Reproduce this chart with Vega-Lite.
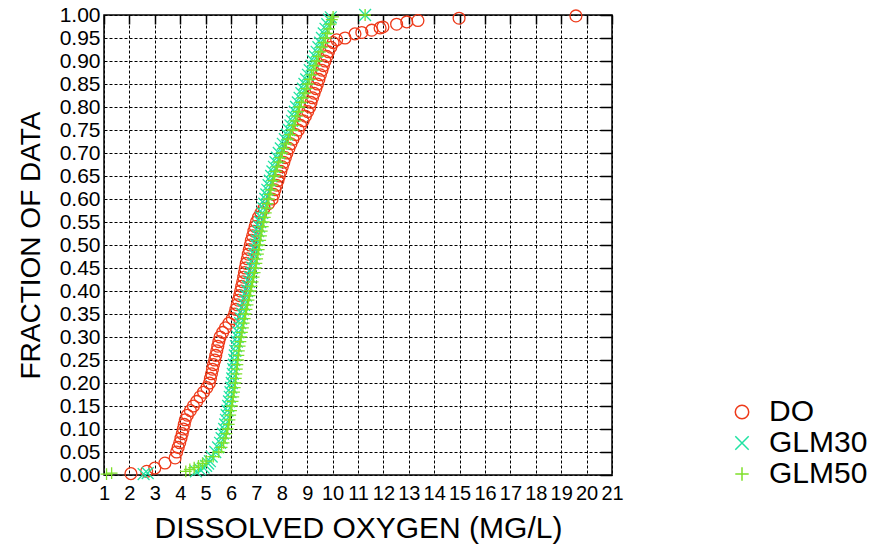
{
  "$schema": "https://vega.github.io/schema/vega-lite/v6.json",
  "width": 508,
  "height": 460,
  "autosize": {"type": "none"},
  "padding": {"left": 104, "top": 15, "right": 257, "bottom": 74},
  "background": "white",
  "config": {
    "font": "Liberation Sans",
    "view": {"stroke": "black", "strokeWidth": 1.5},
    "axis": {"labelColor": "black", "titleColor": "black", "titleFontWeight": "normal", "labelFont": "Liberation Sans", "titleFont": "Liberation Sans"}
  },
  "resolve": {"axis": {"x": "independent", "y": "independent"}},
  "data": {"values": [
    {"s":"DO","x":2.06,"y":0.003},{"s":"DO","x":2.68,"y":0.008},{"s":"DO","x":3.0,"y":0.015},{"s":"DO","x":3.4,"y":0.026},{"s":"DO","x":3.8,"y":0.037},
    {"s":"DO","x":3.86,"y":0.05},{"s":"DO","x":3.92,"y":0.06},{"s":"DO","x":3.98,"y":0.07},{"s":"DO","x":4.03,"y":0.08},{"s":"DO","x":4.08,"y":0.09},
    {"s":"DO","x":4.12,"y":0.10},{"s":"DO","x":4.16,"y":0.11},{"s":"DO","x":4.2,"y":0.12},{"s":"DO","x":4.28,"y":0.13},{"s":"DO","x":4.4,"y":0.14},
    {"s":"DO","x":4.52,"y":0.15},{"s":"DO","x":4.65,"y":0.16},{"s":"DO","x":4.78,"y":0.17},{"s":"DO","x":4.92,"y":0.18},{"s":"DO","x":5.05,"y":0.19},
    {"s":"DO","x":5.15,"y":0.20},{"s":"DO","x":5.19,"y":0.21},{"s":"DO","x":5.23,"y":0.22},{"s":"DO","x":5.27,"y":0.23},{"s":"DO","x":5.31,"y":0.24},
    {"s":"DO","x":5.36,"y":0.25},{"s":"DO","x":5.4,"y":0.26},{"s":"DO","x":5.44,"y":0.27},{"s":"DO","x":5.48,"y":0.28},{"s":"DO","x":5.52,"y":0.29},
    {"s":"DO","x":5.57,"y":0.30},{"s":"DO","x":5.67,"y":0.31},{"s":"DO","x":5.78,"y":0.32},{"s":"DO","x":5.92,"y":0.33},{"s":"DO","x":6.05,"y":0.34},
    {"s":"DO","x":6.14,"y":0.35},{"s":"DO","x":6.19,"y":0.36},{"s":"DO","x":6.24,"y":0.37},{"s":"DO","x":6.29,"y":0.38},{"s":"DO","x":6.34,"y":0.39},
    {"s":"DO","x":6.38,"y":0.40},{"s":"DO","x":6.42,"y":0.41},{"s":"DO","x":6.46,"y":0.42},{"s":"DO","x":6.5,"y":0.43},{"s":"DO","x":6.53,"y":0.44},
    {"s":"DO","x":6.56,"y":0.45},{"s":"DO","x":6.6,"y":0.46},{"s":"DO","x":6.64,"y":0.47},{"s":"DO","x":6.68,"y":0.48},{"s":"DO","x":6.72,"y":0.49},
    {"s":"DO","x":6.76,"y":0.50},{"s":"DO","x":6.8,"y":0.51},{"s":"DO","x":6.85,"y":0.52},{"s":"DO","x":6.9,"y":0.53},{"s":"DO","x":6.95,"y":0.54},
    {"s":"DO","x":7.0,"y":0.55},{"s":"DO","x":7.08,"y":0.56},{"s":"DO","x":7.18,"y":0.57},{"s":"DO","x":7.3,"y":0.58},{"s":"DO","x":7.48,"y":0.59},
    {"s":"DO","x":7.62,"y":0.60},{"s":"DO","x":7.68,"y":0.61},{"s":"DO","x":7.73,"y":0.62},{"s":"DO","x":7.79,"y":0.63},{"s":"DO","x":7.85,"y":0.64},
    {"s":"DO","x":7.9,"y":0.65},{"s":"DO","x":7.96,"y":0.66},{"s":"DO","x":8.02,"y":0.67},{"s":"DO","x":8.08,"y":0.68},{"s":"DO","x":8.14,"y":0.69},
    {"s":"DO","x":8.2,"y":0.70},{"s":"DO","x":8.28,"y":0.71},{"s":"DO","x":8.36,"y":0.72},{"s":"DO","x":8.44,"y":0.73},{"s":"DO","x":8.55,"y":0.74},
    {"s":"DO","x":8.65,"y":0.75},{"s":"DO","x":8.74,"y":0.76},{"s":"DO","x":8.84,"y":0.77},{"s":"DO","x":8.93,"y":0.78},{"s":"DO","x":9.02,"y":0.79},
    {"s":"DO","x":9.1,"y":0.80},{"s":"DO","x":9.15,"y":0.81},{"s":"DO","x":9.21,"y":0.82},{"s":"DO","x":9.27,"y":0.83},{"s":"DO","x":9.34,"y":0.84},
    {"s":"DO","x":9.4,"y":0.85},{"s":"DO","x":9.46,"y":0.86},{"s":"DO","x":9.52,"y":0.87},{"s":"DO","x":9.58,"y":0.88},{"s":"DO","x":9.64,"y":0.89},
    {"s":"DO","x":9.7,"y":0.90},{"s":"DO","x":9.77,"y":0.91},{"s":"DO","x":9.84,"y":0.92},{"s":"DO","x":9.93,"y":0.93},{"s":"DO","x":10.02,"y":0.94},
    {"s":"DO","x":10.16,"y":0.946},{"s":"DO","x":10.49,"y":0.95},{"s":"DO","x":10.88,"y":0.959},{"s":"DO","x":11.15,"y":0.962},{"s":"DO","x":11.54,"y":0.967},
    {"s":"DO","x":11.87,"y":0.972},{"s":"DO","x":11.98,"y":0.974},{"s":"DO","x":12.52,"y":0.98},{"s":"DO","x":12.92,"y":0.985},{"s":"DO","x":13.36,"y":0.988},
    {"s":"DO","x":14.98,"y":0.993},{"s":"DO","x":19.58,"y":0.998},

    {"s":"GLM30","x":2.56,"y":0.002},{"s":"GLM30","x":2.72,"y":0.004},{"s":"GLM30","x":4.62,"y":0.008},{"s":"GLM30","x":4.78,"y":0.012},{"s":"GLM30","x":4.92,"y":0.016},
    {"s":"GLM30","x":5.02,"y":0.02},{"s":"GLM30","x":5.1,"y":0.025},{"s":"GLM30","x":5.17,"y":0.03},{"s":"GLM30","x":5.24,"y":0.04},{"s":"GLM30","x":5.38,"y":0.05},
    {"s":"GLM30","x":5.49,"y":0.06},{"s":"GLM30","x":5.57,"y":0.07},{"s":"GLM30","x":5.63,"y":0.08},{"s":"GLM30","x":5.68,"y":0.09},{"s":"GLM30","x":5.73,"y":0.10},
    {"s":"GLM30","x":5.77,"y":0.11},{"s":"GLM30","x":5.8,"y":0.12},{"s":"GLM30","x":5.83,"y":0.13},{"s":"GLM30","x":5.86,"y":0.14},{"s":"GLM30","x":5.89,"y":0.15},
    {"s":"GLM30","x":5.92,"y":0.16},{"s":"GLM30","x":5.95,"y":0.17},{"s":"GLM30","x":5.98,"y":0.18},{"s":"GLM30","x":6.01,"y":0.19},{"s":"GLM30","x":6.03,"y":0.20},
    {"s":"GLM30","x":6.05,"y":0.21},{"s":"GLM30","x":6.07,"y":0.22},{"s":"GLM30","x":6.09,"y":0.23},{"s":"GLM30","x":6.11,"y":0.24},{"s":"GLM30","x":6.13,"y":0.25},
    {"s":"GLM30","x":6.15,"y":0.26},{"s":"GLM30","x":6.17,"y":0.27},{"s":"GLM30","x":6.2,"y":0.28},{"s":"GLM30","x":6.23,"y":0.29},{"s":"GLM30","x":6.26,"y":0.30},
    {"s":"GLM30","x":6.29,"y":0.31},{"s":"GLM30","x":6.33,"y":0.32},{"s":"GLM30","x":6.36,"y":0.33},{"s":"GLM30","x":6.4,"y":0.34},{"s":"GLM30","x":6.43,"y":0.35},
    {"s":"GLM30","x":6.47,"y":0.36},{"s":"GLM30","x":6.51,"y":0.37},{"s":"GLM30","x":6.55,"y":0.38},{"s":"GLM30","x":6.59,"y":0.39},{"s":"GLM30","x":6.63,"y":0.40},
    {"s":"GLM30","x":6.67,"y":0.41},{"s":"GLM30","x":6.71,"y":0.42},{"s":"GLM30","x":6.75,"y":0.43},{"s":"GLM30","x":6.79,"y":0.44},{"s":"GLM30","x":6.83,"y":0.45},
    {"s":"GLM30","x":6.86,"y":0.46},{"s":"GLM30","x":6.89,"y":0.47},{"s":"GLM30","x":6.92,"y":0.48},{"s":"GLM30","x":6.95,"y":0.49},{"s":"GLM30","x":6.98,"y":0.50},
    {"s":"GLM30","x":7.01,"y":0.51},{"s":"GLM30","x":7.04,"y":0.52},{"s":"GLM30","x":7.07,"y":0.53},{"s":"GLM30","x":7.11,"y":0.54},{"s":"GLM30","x":7.15,"y":0.55},
    {"s":"GLM30","x":7.19,"y":0.56},{"s":"GLM30","x":7.23,"y":0.57},{"s":"GLM30","x":7.27,"y":0.58},{"s":"GLM30","x":7.31,"y":0.59},{"s":"GLM30","x":7.35,"y":0.60},
    {"s":"GLM30","x":7.39,"y":0.61},{"s":"GLM30","x":7.43,"y":0.62},{"s":"GLM30","x":7.48,"y":0.63},{"s":"GLM30","x":7.53,"y":0.64},{"s":"GLM30","x":7.58,"y":0.65},
    {"s":"GLM30","x":7.63,"y":0.66},{"s":"GLM30","x":7.69,"y":0.67},{"s":"GLM30","x":7.75,"y":0.68},{"s":"GLM30","x":7.81,"y":0.69},{"s":"GLM30","x":7.88,"y":0.70},
    {"s":"GLM30","x":7.96,"y":0.71},{"s":"GLM30","x":8.04,"y":0.72},{"s":"GLM30","x":8.12,"y":0.73},{"s":"GLM30","x":8.2,"y":0.74},{"s":"GLM30","x":8.28,"y":0.75},
    {"s":"GLM30","x":8.34,"y":0.76},{"s":"GLM30","x":8.4,"y":0.77},{"s":"GLM30","x":8.46,"y":0.78},{"s":"GLM30","x":8.51,"y":0.79},{"s":"GLM30","x":8.56,"y":0.80},
    {"s":"GLM30","x":8.63,"y":0.81},{"s":"GLM30","x":8.7,"y":0.82},{"s":"GLM30","x":8.77,"y":0.83},{"s":"GLM30","x":8.83,"y":0.84},{"s":"GLM30","x":8.89,"y":0.85},
    {"s":"GLM30","x":8.96,"y":0.86},{"s":"GLM30","x":9.03,"y":0.87},{"s":"GLM30","x":9.1,"y":0.88},{"s":"GLM30","x":9.17,"y":0.89},{"s":"GLM30","x":9.23,"y":0.90},
    {"s":"GLM30","x":9.3,"y":0.91},{"s":"GLM30","x":9.37,"y":0.92},{"s":"GLM30","x":9.44,"y":0.93},{"s":"GLM30","x":9.51,"y":0.94},{"s":"GLM30","x":9.58,"y":0.95},
    {"s":"GLM30","x":9.65,"y":0.96},{"s":"GLM30","x":9.72,"y":0.97},{"s":"GLM30","x":9.79,"y":0.98},{"s":"GLM30","x":9.86,"y":0.99},{"s":"GLM30","x":9.93,"y":0.995},
    {"s":"GLM30","x":11.28,"y":1.0},

    {"s":"GLM50","x":1.1,"y":0.002},{"s":"GLM50","x":1.3,"y":0.004},{"s":"GLM50","x":4.22,"y":0.008},{"s":"GLM50","x":4.38,"y":0.012},{"s":"GLM50","x":4.55,"y":0.016},
    {"s":"GLM50","x":4.72,"y":0.02},{"s":"GLM50","x":4.88,"y":0.025},{"s":"GLM50","x":5.02,"y":0.03},{"s":"GLM50","x":5.3,"y":0.04},{"s":"GLM50","x":5.52,"y":0.05},
    {"s":"GLM50","x":5.63,"y":0.06},{"s":"GLM50","x":5.71,"y":0.07},{"s":"GLM50","x":5.77,"y":0.08},{"s":"GLM50","x":5.82,"y":0.09},{"s":"GLM50","x":5.87,"y":0.10},
    {"s":"GLM50","x":5.91,"y":0.11},{"s":"GLM50","x":5.94,"y":0.12},{"s":"GLM50","x":5.97,"y":0.13},{"s":"GLM50","x":6.0,"y":0.14},{"s":"GLM50","x":6.03,"y":0.15},
    {"s":"GLM50","x":6.06,"y":0.16},{"s":"GLM50","x":6.09,"y":0.17},{"s":"GLM50","x":6.12,"y":0.18},{"s":"GLM50","x":6.15,"y":0.19},{"s":"GLM50","x":6.17,"y":0.20},
    {"s":"GLM50","x":6.19,"y":0.21},{"s":"GLM50","x":6.21,"y":0.22},{"s":"GLM50","x":6.23,"y":0.23},{"s":"GLM50","x":6.25,"y":0.24},{"s":"GLM50","x":6.27,"y":0.25},
    {"s":"GLM50","x":6.29,"y":0.26},{"s":"GLM50","x":6.31,"y":0.27},{"s":"GLM50","x":6.34,"y":0.28},{"s":"GLM50","x":6.37,"y":0.29},{"s":"GLM50","x":6.4,"y":0.30},
    {"s":"GLM50","x":6.43,"y":0.31},{"s":"GLM50","x":6.47,"y":0.32},{"s":"GLM50","x":6.5,"y":0.33},{"s":"GLM50","x":6.54,"y":0.34},{"s":"GLM50","x":6.57,"y":0.35},
    {"s":"GLM50","x":6.61,"y":0.36},{"s":"GLM50","x":6.65,"y":0.37},{"s":"GLM50","x":6.69,"y":0.38},{"s":"GLM50","x":6.73,"y":0.39},{"s":"GLM50","x":6.77,"y":0.40},
    {"s":"GLM50","x":6.81,"y":0.41},{"s":"GLM50","x":6.85,"y":0.42},{"s":"GLM50","x":6.89,"y":0.43},{"s":"GLM50","x":6.93,"y":0.44},{"s":"GLM50","x":6.97,"y":0.45},
    {"s":"GLM50","x":7.0,"y":0.46},{"s":"GLM50","x":7.03,"y":0.47},{"s":"GLM50","x":7.06,"y":0.48},{"s":"GLM50","x":7.09,"y":0.49},{"s":"GLM50","x":7.12,"y":0.50},
    {"s":"GLM50","x":7.15,"y":0.51},{"s":"GLM50","x":7.18,"y":0.52},{"s":"GLM50","x":7.21,"y":0.53},{"s":"GLM50","x":7.25,"y":0.54},{"s":"GLM50","x":7.29,"y":0.55},
    {"s":"GLM50","x":7.33,"y":0.56},{"s":"GLM50","x":7.37,"y":0.57},{"s":"GLM50","x":7.41,"y":0.58},{"s":"GLM50","x":7.45,"y":0.59},{"s":"GLM50","x":7.49,"y":0.60},
    {"s":"GLM50","x":7.53,"y":0.61},{"s":"GLM50","x":7.57,"y":0.62},{"s":"GLM50","x":7.62,"y":0.63},{"s":"GLM50","x":7.67,"y":0.64},{"s":"GLM50","x":7.72,"y":0.65},
    {"s":"GLM50","x":7.77,"y":0.66},{"s":"GLM50","x":7.83,"y":0.67},{"s":"GLM50","x":7.89,"y":0.68},{"s":"GLM50","x":7.95,"y":0.69},{"s":"GLM50","x":8.02,"y":0.70},
    {"s":"GLM50","x":8.1,"y":0.71},{"s":"GLM50","x":8.18,"y":0.72},{"s":"GLM50","x":8.26,"y":0.73},{"s":"GLM50","x":8.34,"y":0.74},{"s":"GLM50","x":8.42,"y":0.75},
    {"s":"GLM50","x":8.48,"y":0.76},{"s":"GLM50","x":8.54,"y":0.77},{"s":"GLM50","x":8.6,"y":0.78},{"s":"GLM50","x":8.65,"y":0.79},{"s":"GLM50","x":8.7,"y":0.80},
    {"s":"GLM50","x":8.77,"y":0.81},{"s":"GLM50","x":8.84,"y":0.82},{"s":"GLM50","x":8.91,"y":0.83},{"s":"GLM50","x":8.97,"y":0.84},{"s":"GLM50","x":9.03,"y":0.85},
    {"s":"GLM50","x":9.1,"y":0.86},{"s":"GLM50","x":9.17,"y":0.87},{"s":"GLM50","x":9.24,"y":0.88},{"s":"GLM50","x":9.31,"y":0.89},{"s":"GLM50","x":9.37,"y":0.90},
    {"s":"GLM50","x":9.44,"y":0.91},{"s":"GLM50","x":9.51,"y":0.92},{"s":"GLM50","x":9.58,"y":0.93},{"s":"GLM50","x":9.65,"y":0.94},{"s":"GLM50","x":9.72,"y":0.95},
    {"s":"GLM50","x":9.79,"y":0.96},{"s":"GLM50","x":9.86,"y":0.97},{"s":"GLM50","x":9.92,"y":0.98},{"s":"GLM50","x":9.97,"y":0.99},{"s":"GLM50","x":10.02,"y":0.996},
    {"s":"GLM50","x":11.28,"y":1.0}
  ]},
  "layer": [
    {
      "mark": {"type": "point", "opacity": 0},
      "encoding": {
        "x": {"field": "x", "type": "quantitative", "scale": {"domain": [1, 21], "nice": false, "zero": false},
              "axis": {"orient": "top", "title": null, "labels": false, "domain": false, "grid": false, "ticks": true, "tickSize": -9, "tickColor": "black", "tickWidth": 1.5,
                       "values": [1,2,3,4,5,6,7,8,9,10,11,12,13,14,15,16,17,18,19,20,21]}},
        "y": {"field": "y", "type": "quantitative", "scale": {"domain": [0, 1], "nice": false, "zero": false},
              "axis": {"orient": "right", "title": null, "labels": false, "domain": false, "grid": false, "ticks": true, "tickSize": -12, "tickColor": "black", "tickWidth": 1.5,
                       "values": [0,0.05,0.1,0.15,0.2,0.25,0.3,0.35,0.4,0.45,0.5,0.55,0.6,0.65,0.7,0.75,0.8,0.85,0.9,0.95,1]}}
      }
    },
    {
      "mark": {"type": "point", "filled": false, "strokeWidth": 1.3, "size": 140, "opacity": 1},
      "encoding": {
        "x": {"field": "x", "type": "quantitative", "scale": {"domain": [1, 21], "nice": false, "zero": false},
              "axis": {"orient": "bottom", "title": "DISSOLVED OXYGEN (MG/L)", "titleFontSize": 30, "titlePadding": 10, "labelFontSize": 20, "labelPadding": 8,
                       "ticks": false, "domain": false, "grid": true, "gridColor": "black", "gridDash": [3, 2], "gridWidth": 1, "gridOpacity": 1,
                       "labelFlush": false, "labelOverlap": false,
                       "values": [1,2,3,4,5,6,7,8,9,10,11,12,13,14,15,16,17,18,19,20,21]}},
        "y": {"field": "y", "type": "quantitative", "scale": {"domain": [0, 1], "nice": false, "zero": false},
              "axis": {"orient": "left", "title": "FRACTION OF DATA", "titleFontSize": 28, "titlePadding": 14, "labelFontSize": 21, "labelPadding": 4, "format": ".2f",
                       "ticks": false, "domain": false, "grid": true, "gridColor": "black", "gridDash": [3, 2], "gridWidth": 1, "gridOpacity": 1,
                       "labelFlush": false, "labelOverlap": false,
                       "values": [0,0.05,0.1,0.15,0.2,0.25,0.3,0.35,0.4,0.45,0.5,0.55,0.6,0.65,0.7,0.75,0.8,0.85,0.9,0.95,1]}},
        "color": {"field": "s", "type": "nominal",
                  "scale": {"domain": ["DO", "GLM30", "GLM50"], "range": ["#ee3a1a", "#1fe3a3", "#7fe02a"]},
                  "legend": {"orient": "none", "legendX": 623, "legendY": 382, "title": null, "labelFontSize": 30, "labelFont": "Liberation Sans", "labelColor": "black",
                             "symbolSize": 180, "symbolStrokeWidth": 1.5, "labelOffset": 12, "rowPadding": 1, "padding": 0}},
        "shape": {"field": "s", "type": "nominal",
                  "scale": {"domain": ["DO", "GLM30", "GLM50"], "range": ["circle", "M-1,-1L1,1M-1,1L1,-1", "M-1,0L1,0M0,-1L0,1"]},
                  "legend": {"orient": "none", "legendX": 623, "legendY": 382, "title": null, "labelFontSize": 30, "labelFont": "Liberation Sans", "labelColor": "black",
                             "symbolSize": 180, "symbolStrokeWidth": 1.5, "labelOffset": 12, "rowPadding": 1, "padding": 0}}
      }
    }
  ]
}
